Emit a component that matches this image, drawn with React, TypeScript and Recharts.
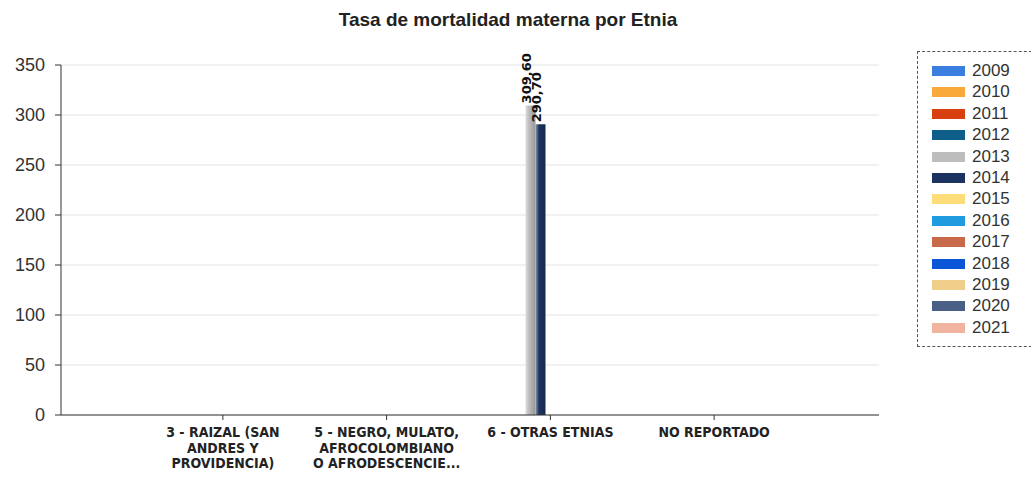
import { BarChart, Bar, XAxis, YAxis, CartesianGrid, LabelList } from 'recharts'

const years = ['2009', '2010', '2011', '2012', '2013', '2014', '2015', '2016', '2017', '2018', '2019', '2020', '2021']
const colors = ['#3a7fe0', '#f8a93a', '#d9400f', '#0d5f8a', '#bdbdbd', '#1c3360', '#fddc7a', '#1f9be0', '#c86a4a', '#0a56d6', '#efcf8a', '#4a5f86', '#f0b4a0']

const categories = [
  '3 - RAIZAL (SAN\nANDRES Y\nPROVIDENCIA)',
  '5 - NEGRO, MULATO,\nAFROCOLOMBIANO\nO AFRODESCENCIE...',
  '6 - OTRAS ETNIAS',
  'NO REPORTADO',
]
const tasa2013 = [null, null, 309.6, null]
const tasa2014 = [null, null, 290.7, null]
const yTicks = [0, 50, 100, 150, 200, 250, 300, 350]

const data = categories.map((c, i) => ({ etnia: c, '2013': tasa2013[i], '2014': tasa2014[i] }))

// mix a hex colour with white (f > 0) or black (f < 0)
const shade = (hex: string, f: number) => {
  const n = parseInt(hex.slice(1), 16)
  const ch = [(n >> 16) & 255, (n >> 8) & 255, n & 255].map(v =>
    Math.round(f >= 0 ? v + (255 - v) * f : v * (1 + f)))
  return '#' + ch.map(v => v.toString(16).padStart(2, '0')).join('')
}

const EtniaTick = ({ x, y, payload }: any) => {
  const lines = String(payload.value).split('\n')
  return (
    <text x={x} y={y} textAnchor="middle" fill="#222"
      style={{ fontFamily: "'DejaVu Sans Condensed', 'DejaVu Sans', sans-serif", fontWeight: 'bold', fontSize: 14 }}>
      {lines.map((l, i) => <tspan key={i} x={x} dy={i === 0 ? 15 : 15.5}>{l}</tspan>)}
    </text>
  )
}

const ValueLabel = ({ x, y, width, value }: any) => {
  if (value == null) return null
  const cx = x + width / 2 + 1
  const cy = y - 2
  return (
    <text x={cx} y={cy} transform={`rotate(-90 ${cx} ${cy})`} textAnchor="start" fill="#111"
      style={{ fontFamily: "'DejaVu Sans', sans-serif", fontWeight: 'bold', fontSize: 13 }}>
      {Number(value).toFixed(2).replace('.', ',')}
    </text>
  )
}

export default function App() {
  return (
    <div style={{ position: 'absolute', left: 0, top: 0, width: 1031, height: 479, background: '#fff' }}>
      <div style={{ position: 'absolute', left: 0, top: 10, width: 1016, textAlign: 'center',
        fontFamily: "'Liberation Sans', Arial, sans-serif", fontWeight: 'bold', fontSize: 19, lineHeight: '19px', color: '#222' }}>
        Tasa de mortalidad materna por Etnia
      </div>
      <BarChart width={1031} height={479} data={data}
        margin={{ top: 65, right: 152, bottom: 0, left: 0 }}
        barCategoryGap={17} barGap={0}>
        <defs>
          {colors.map((c, i) => (
            <linearGradient key={i} id={`g${i}`} x1="0" y1="0" x2="1" y2="0">
              <stop offset="0%" stopColor={shade(c, 0.5)} />
              <stop offset="35%" stopColor={c} />
              <stop offset="100%" stopColor={shade(c, -0.2)} />
            </linearGradient>
          ))}
        </defs>
        <CartesianGrid vertical={false} stroke="#e3e3e3" />
        <XAxis dataKey="etnia" height={64} padding={{ left: 80, right: 83 }}
          axisLine={{ stroke: '#333' }} tickLine={{ stroke: '#333' }} tickSize={5}
          interval={0} tick={<EtniaTick />} />
        <YAxis width={61} domain={[0, 350]} ticks={yTicks} interval={0}
          axisLine={{ stroke: '#333' }} tickLine={{ stroke: '#333' }} tickSize={6} tickMargin={10}
          tick={{ fill: '#333', fontSize: 18, fontFamily: "'Liberation Sans', Arial, sans-serif" }} />
        {years.map((yr, i) => (
          <Bar key={yr} dataKey={yr} fill={`url(#g${i})`} isAnimationActive={false}>
            <LabelList dataKey={yr} content={<ValueLabel />} />
          </Bar>
        ))}
      </BarChart>
      <div style={{ position: 'absolute', left: 917, top: 51, width: 120, height: 296, border: '1.5px dashed #555',
        boxSizing: 'border-box', fontFamily: "'Liberation Sans', Arial, sans-serif", fontSize: 17, color: '#333' }}>
        {years.map((yr, i) => (
          <div key={yr} style={{ position: 'absolute', left: 14, top: 9 + i * 21.4, height: 20, display: 'flex', alignItems: 'center' }}>
            <span style={{ display: 'inline-block', width: 33, height: 10, background: colors[i], marginRight: 7 }} />
            <span>{yr}</span>
          </div>
        ))}
      </div>
    </div>
  )
}
